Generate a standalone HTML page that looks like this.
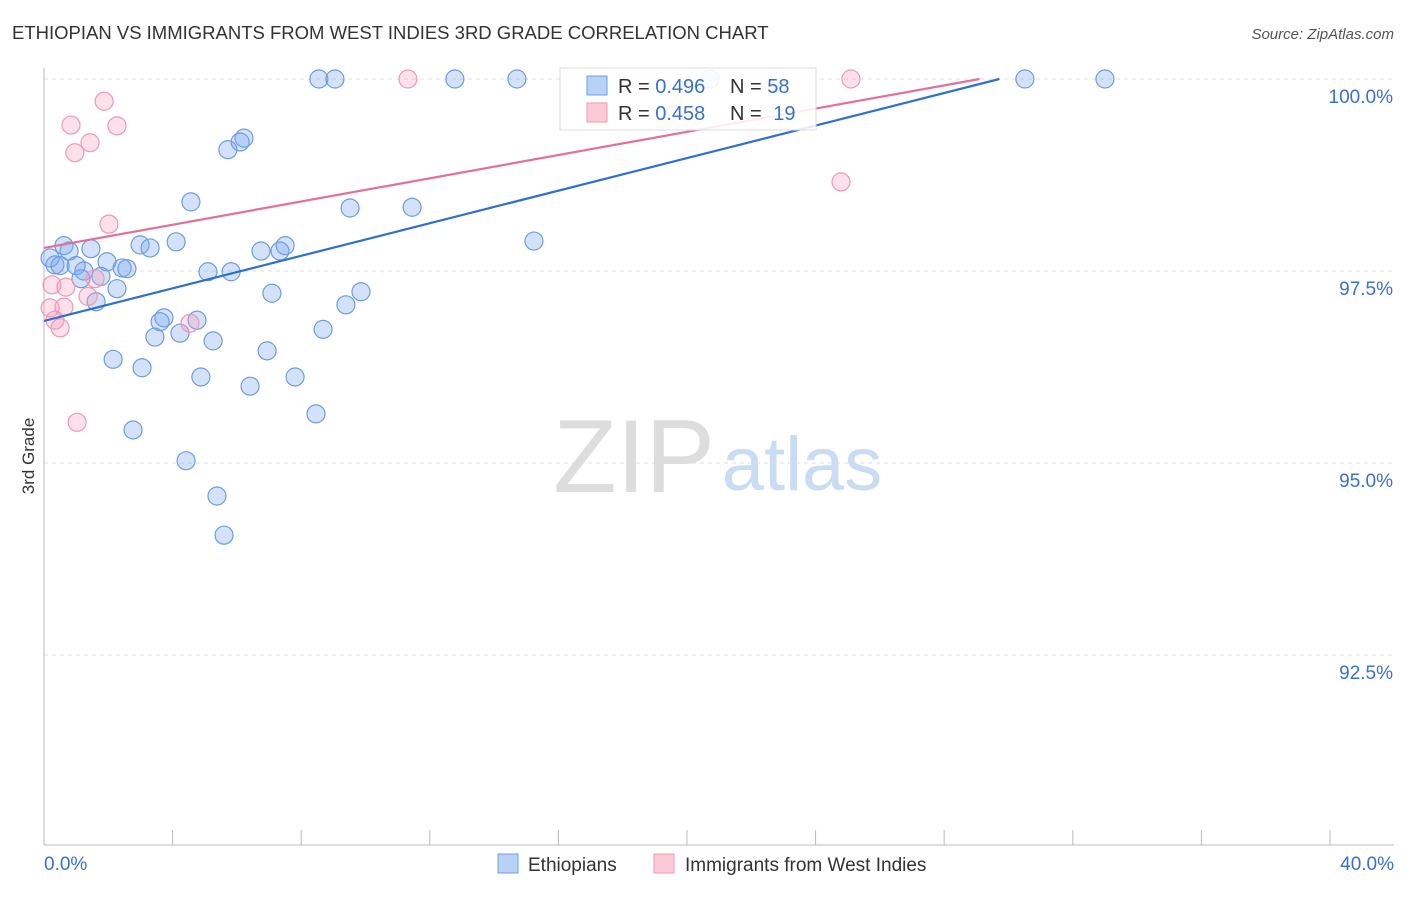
<!DOCTYPE html>
<html><head><meta charset="utf-8"><style>
body{margin:0;background:#fff;font-family:"Liberation Sans",sans-serif}
svg text{font-family:"Liberation Sans",sans-serif}
</style></head><body>
<svg id="c" width="1406" height="892">
<text x="12" y="39" font-size="18.5" fill="#333">ETHIOPIAN VS IMMIGRANTS FROM WEST INDIES 3RD GRADE CORRELATION CHART</text>
<text x="1394" y="39" font-size="15" fill="#555" font-style="italic" text-anchor="end">Source: ZipAtlas.com</text>
<text x="0" y="0" transform="translate(34,456) rotate(-90)" font-size="17" fill="#333" text-anchor="middle">3rd Grade</text>
<g><text x="634" y="492" font-size="104" fill="#ddd" font-family="Liberation Serif" text-anchor="middle">ZIP</text><text x="802" y="490" font-size="76" fill="#c9dcf3" text-anchor="middle">atlas</text></g>
<g id="grid"></g><g id="axes"></g>
<g id="marks"></g>
<g>
<rect x="560" y="68" width="256" height="62" fill="rgba(255,255,255,0.88)" stroke="#ddd"/>
<rect x="587" y="76" width="20" height="19" fill="#b8d2f5" stroke="#6d9de0"/>
<rect x="587" y="103" width="20" height="19" fill="#fbc9d8" stroke="#eb9ab5"/>
<text x="618" y="93" font-size="20" fill="#333">R = <tspan fill="#3a70d0">0.496</tspan></text>
<text x="730" y="93" font-size="20" fill="#333">N = <tspan fill="#3a70d0">58</tspan></text>
<text x="618" y="120" font-size="20" fill="#333">R = <tspan fill="#3a70d0">0.458</tspan></text>
<text x="730" y="120" font-size="20" fill="#333">N = <tspan fill="#3a70d0" dx="6">19</tspan></text>
</g>
<g>
<rect x="498" y="854" width="20" height="19" fill="#b8d2f5" stroke="#6d9de0"/>
<text x="528" y="871" font-size="19" fill="#333">Ethiopians</text>
<rect x="654" y="854" width="20" height="19" fill="#fbc9d8" stroke="#eb9ab5"/>
<text x="685" y="871" font-size="19" fill="#333">Immigrants from West Indies</text>
</g>
</svg>
<script>
const blueX=[8.55,9.05,12.78,14.71,20.71,30.51,33.0,6.22,6.10,5.72,4.57,9.52,11.45,15.24,0.62,0.78,1.46,2.99,3.30,4.11,6.75,7.50,7.34,0.19,0.34,0.50,1.00,1.96,2.43,2.58,5.10,5.82,1.24,1.77,1.15,2.27,1.62,7.09,9.86,9.39,3.73,3.61,4.76,3.45,4.23,5.26,8.68,2.15,3.05,6.94,4.88,6.41,7.81,8.46,2.77,4.42,5.38,5.60];
const blueY=[100,100,100,100,100,100,100,99.23,99.18,99.08,98.40,98.32,98.33,97.89,97.83,97.76,97.79,97.84,97.80,97.88,97.76,97.83,97.76,97.67,97.58,97.57,97.57,97.62,97.54,97.53,97.49,97.49,97.50,97.43,97.40,97.27,97.10,97.21,97.23,97.06,96.89,96.84,96.86,96.64,96.69,96.59,96.74,96.35,96.24,96.46,96.12,96.00,96.12,95.64,95.43,95.03,94.57,94.06];
const pinkX=[11.32,25.10,1.87,0.84,2.27,1.43,0.96,2.02,24.79,0.19,0.25,0.68,1.37,1.59,0.62,0.34,0.50,4.54,1.03];
const pinkY=[100,100,99.71,99.40,99.39,99.17,99.04,98.11,98.66,97.02,97.32,97.29,97.17,97.40,97.03,96.86,96.76,96.82,95.53];
const blueTrend=[96.85,0.1060];
const pinkTrend=[97.80,0.0756];
const yTicks=[100,97.5,95,92.5];
const yTickLabels=["100.0%","97.5%","95.0%","92.5%"];
const xTickLabels=["0.0%","40.0%"];
const NS="http://www.w3.org/2000/svg";
const X=v=>44+v/40*1286, Y=v=>79+(100-v)/2.5*192;
function mk(t,a,p){const e=document.createElementNS(NS,t);for(const k in a)e.setAttribute(k,a[k]);p.appendChild(e);return e;}
const grid=document.getElementById('grid'),axes=document.getElementById('axes'),marks=document.getElementById('marks');
yTicks.forEach((t,i)=>{
 const l=mk('line',{x1:44,x2:1394,y1:Y(t),y2:Y(t),stroke:'#ddd','stroke-dasharray':'4,4'},grid);
 
 
 const tx=mk('text',{x:1393,y:Y(t)+24,'font-size':19,fill:'#3a70d0','text-anchor':'end'},axes);
 tx.textContent=yTickLabels[i];
 
 
});
const la=mk('line',{x1:44,x2:44,y1:68,y2:845,stroke:'#bbb'},axes);


const ba=mk('line',{x1:44,x2:1394,y1:845,y2:845,stroke:'#bbb'},axes);


for(let i=0;i<=10;i++){const t=mk('line',{x1:X(i*4),x2:X(i*4),y1:830,y2:845,stroke:'#bbb'},axes);
 
 }
[[0,'start',44],[40,'end',1394]].forEach((d,i)=>{const t=mk('text',{x:d[2],y:870,'font-size':19,fill:'#3a70d0','text-anchor':d[1]},axes);t.textContent=xTickLabels[i];
 
 });
function pts(xs,ys,fill,stroke,name){xs.forEach((x,i)=>{const c=mk('circle',{cx:X(x),cy:Y(ys[i]),r:9,fill:fill,stroke:stroke,'stroke-width':1.2},marks);
 
 });}
pts(blueX,blueY,'rgba(120,165,235,0.32)','#6d9de0','ethiopian-point');
pts(pinkX,pinkY,'rgba(245,160,190,0.32)','#eb9ab5','west-indies-point');
function trend(tr,col,name){const xe=(100-tr[0])/tr[1];const l=mk('line',{x1:X(0),y1:Y(tr[0]),x2:X(xe),y2:Y(100),stroke:col,'stroke-width':2.2},marks);
 
 }
trend(pinkTrend,'#e4709a','west-indies-trendline');
trend(blueTrend,'#2f6fd4','ethiopian-trendline');
</script>
</body></html>
